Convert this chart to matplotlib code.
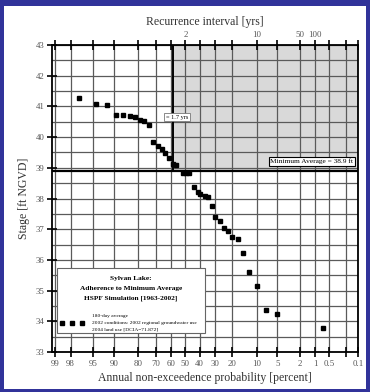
from statistics import NormalDist
import numpy as np
import matplotlib
matplotlib.use("Agg")
import matplotlib.pyplot as plt
from matplotlib.patches import Rectangle

plt.rcParams['font.family'] = ['Liberation Serif', 'DejaVu Serif']

# datos
prob_no_exc = [97.2, 94.5, 91.9, 89.4, 86.7, 84.0, 81.6, 79.4, 76.8, 74.0,
               71.7, 68.8, 66.1, 63.9, 61.7, 58.6, 56.3, 52.0, 49.8, 47.4,
               44.0, 41.2, 39.4, 36.5, 34.5, 31.8, 29.7, 26.8, 24.5, 22.2,
               20.0, 17.3, 15.0, 12.6, 10.0, 7.5, 5.0, 0.7]
nivel = [41.28, 41.09, 41.04, 40.72, 40.71, 40.70, 40.66, 40.55, 40.54, 40.38,
         39.84, 39.72, 39.61, 39.49, 39.33, 39.12, 39.09, 38.84, 38.84, 38.83,
         38.37, 38.22, 38.15, 38.07, 38.04, 37.77, 37.39, 37.26, 37.03, 36.95,
         36.76, 36.67, 36.21, 35.59, 35.16, 34.38, 34.23, 33.78]

ticks_prob = [99, 98, 95, 90, 80, 70, 60, 50, 40, 30, 20, 10, 5, 2, 1, 0.5, 0.2, 0.1]
labels_prob = ['99', '98', '95', '90', '80', '70', '60', '50', '40', '30', '20',
               '10', '5', '2', '1', '0.5', '', '0.1']
recurrencia = [2, 10, 50, 100]
minimo = 38.9
t_umbral = 1.7

nd = NormalDist()
_ppf = np.vectorize(lambda v: nd.inv_cdf(v / 100.0), otypes=[float])
_cdf = np.vectorize(lambda v: nd.cdf(v) * 100.0, otypes=[float])


def fwd(e):
    e = np.clip(np.asarray(e, dtype=float), 1e-4, 100 - 1e-4)
    return _ppf(e)


def inv(z):
    return _cdf(np.asarray(z, dtype=float))


fig = plt.figure(figsize=(3.7, 3.92), dpi=100, facecolor='#31339a')
fig.patches.append(Rectangle((4 / 370, 1 - 389 / 392), 362 / 370, 383 / 392,
                             transform=fig.transFigure, facecolor='white',
                             edgecolor='none', zorder=-5))
ax = fig.add_axes([52 / 370, 1 - 352 / 392, 306 / 370, 307 / 392])
ax.set_xscale('function', functions=(fwd, inv))
x_lim = (100 - 99.15, 100 - 0.1)

# zona sombreada y lineas de referencia
e_umbral = 100 - 100.0 / t_umbral
ax.fill_between([e_umbral, x_lim[1]], minimo, 43, color='#d9d9d9', zorder=0.2, lw=0)
ax.axhline(minimo, color='black', lw=1.6, zorder=2)
ax.vlines(e_umbral, minimo, 43, color='black', lw=1.4, zorder=2)

ax.plot([100 - p for p in prob_no_exc], nivel, 's', color='black',
        markersize=2.2, zorder=3)

ax.set_xlim(*x_lim)
ax.set_ylim(33, 43)
ax.set_xticks([100 - p for p in ticks_prob])
ax.set_xticklabels(labels_prob)
ax.set_yticks(np.arange(33, 44, 1))
ax.set_yticks(np.arange(33, 43.5, 0.5), minor=True)
ax.set_axisbelow(True)
ax.grid(True, which='major', axis='x', color='#5a5a5a', lw=0.9)
ax.grid(True, which='both', axis='y', color='#5a5a5a', lw=0.9)
ax.tick_params(axis='both', which='major', direction='inout', length=7,
               width=1.2, labelsize=6.3, pad=2)
ax.tick_params(axis='y', which='minor', length=0)
ax.tick_params(axis='x', which='minor', length=0)
ax.tick_params(axis='x', colors='black', labelcolor='#555555')
ax.tick_params(axis='y', labelcolor='#555555')
for s in ax.spines.values():
    s.set_linewidth(1.3)

ax.set_xlabel('Annual non-exceedence probability [percent]', fontsize=8.5,
              color='#333333', labelpad=3)
ax.set_ylabel('Stage [ft NGVD]', fontsize=8.5, color='#333333', labelpad=4)

# eje superior: intervalo de recurrencia
ax2 = ax.twiny()
ax2.set_xscale('function', functions=(fwd, inv))
ax2.set_xlim(*x_lim)
ax2.set_xticks([100 - p for p in ticks_prob])
etiquetas_sup = []
for p in ticks_prob:
    t = [r for r in recurrencia if abs(100.0 / r - p) < 1e-6]
    etiquetas_sup.append(str(t[0]) if t else '')
ax2.set_xticklabels(etiquetas_sup)
ax2.tick_params(axis='x', direction='inout', length=7, width=1.2,
                labelsize=6.3, pad=1, labelcolor='#555555')
ax2.tick_params(axis='x', which='minor', length=0)
ax2.set_xlabel('Recurrence interval [yrs]', fontsize=8.5, color='#333333',
               labelpad=4)
for s in ax2.spines.values():
    s.set_visible(False)

# etiquetas
ax.text(0.985, 0.62, 'Minimum Average = 38.9 ft', transform=ax.transAxes,
        ha='right', va='center', fontsize=5.3,
        bbox=dict(boxstyle='square,pad=0.25', facecolor='white',
                  edgecolor='black', lw=0.8), zorder=4)
ax.text(100 - 56, 40.65, '= 1.7 yrs', ha='center', va='center', fontsize=4.5,
        bbox=dict(boxstyle='square,pad=0.25', facecolor='white',
                  edgecolor='#777777', lw=0.6), zorder=4)

# cuadro de leyenda
ax.add_patch(Rectangle((0.016, 0.062), 0.484, 0.212, transform=ax.transAxes,
                       facecolor='white', edgecolor='#666666', lw=0.8, zorder=5))
ax.text(0.258, 0.241, 'Sylvan Lake:', transform=ax.transAxes, ha='center',
        va='center', fontsize=5.3, fontweight='bold', zorder=6)
ax.text(0.258, 0.208, 'Adherence to Minimum Average', transform=ax.transAxes,
        ha='center', va='center', fontsize=5.3, fontweight='bold', zorder=6)
ax.text(0.258, 0.176, 'HSPF Simulation [1963-2002]', transform=ax.transAxes,
        ha='center', va='center', fontsize=5.3, fontweight='bold', zorder=6)
ax.plot([0.033, 0.065, 0.098], [0.094] * 3, 's', color='black', markersize=2.2,
        transform=ax.transAxes, zorder=6, clip_on=False)
ax.text(0.131, 0.117, '180-day average', transform=ax.transAxes, ha='left',
        va='center', fontsize=3.9, zorder=6)
ax.text(0.131, 0.094, '2002 conditions: 2002 regional groundwater use',
        transform=ax.transAxes, ha='left', va='center', fontsize=3.9, zorder=6)
ax.text(0.131, 0.072, '2004 land use [DCIA=71.872]', transform=ax.transAxes,
        ha='left', va='center', fontsize=3.9, zorder=6)

fig.savefig('out.png', dpi=100, facecolor=fig.get_facecolor())
